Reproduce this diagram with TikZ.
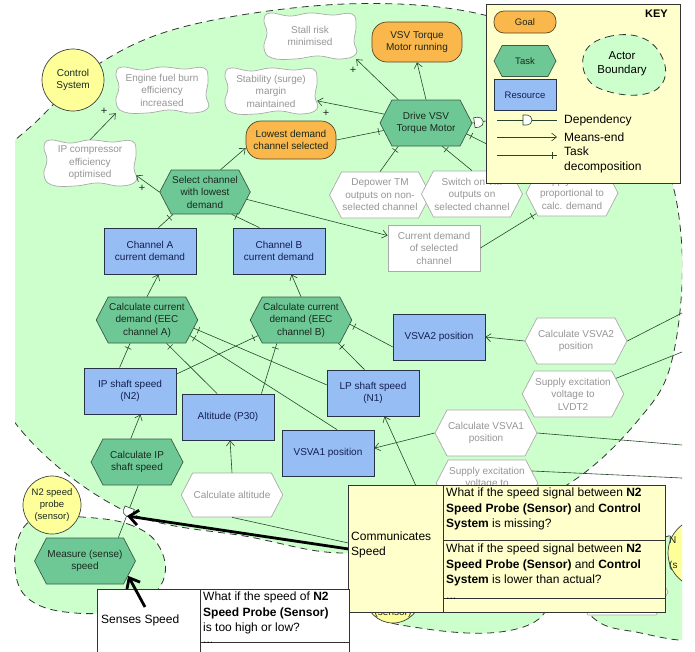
\documentclass[tikz,border=0pt]{standalone}
\usepackage{fontspec}
\setmainfont{Liberation Sans}
\usetikzlibrary{shapes.symbols,shapes.misc,arrows.meta,decorations.markings}
\definecolor{bgreen}{RGB}{204,255,204}
\definecolor{taskfill}{RGB}{110,200,150}
\definecolor{taskdraw}{RGB}{60,90,70}
\definecolor{goalfill}{RGB}{250,183,75}
\definecolor{goaldraw}{RGB}{90,70,40}
\definecolor{resfill}{RGB}{150,190,245}
\definecolor{resdraw}{RGB}{40,50,70}
\definecolor{restext}{RGB}{20,30,80}
\definecolor{actfill}{RGB}{255,255,153}
\definecolor{keyfill}{RGB}{255,255,204}
\definecolor{greytext}{RGB}{150,150,150}
\definecolor{greydraw}{RGB}{170,170,170}
\definecolor{linecol}{RGB}{40,70,45}
\definecolor{darktext}{RGB}{25,40,30}
\tikzset{
  lbl/.style={font=\fontsize{10}{12.5}\selectfont, align=center, inner sep=1pt},
  tsk/.style={lbl, shape=signal, signal to=east and west, signal pointer angle=125, draw=taskdraw, fill=taskfill, text=darktext, minimum width=92pt, minimum height=46pt, line width=0.7pt},
  wtsk/.style={tsk, fill=white, draw=greydraw, text=greytext},
  rsc/.style={lbl, rectangle, draw=resdraw, fill=resfill, text=restext, minimum width=92pt, minimum height=46pt, line width=0.8pt},
  wrsc/.style={rsc, fill=white, draw=greydraw, text=greytext},
  gl/.style={lbl, rectangle, rounded corners=15pt, draw=goaldraw, fill=goalfill, text=darktext, minimum width=90pt, minimum height=40pt, line width=0.7pt},
  sgn/.style={lbl, rectangle, text=greytext, minimum width=92pt, minimum height=46pt},
  sgline/.style={draw=greydraw, fill=white, line width=0.7pt},
  act/.style={lbl, circle, draw=black!75, fill=actfill, text=darktext, line width=0.7pt},
  bnd/.style={draw=black!80, fill=bgreen, line width=0.8pt, dash pattern=on 7pt off 5pt},
  conn/.style={draw=linecol, line width=0.6pt},
  me/.style={conn, -{Straight Barb[length=5pt,width=8pt]}},
  dc/.style={conn, postaction={decorate}, decoration={markings, mark=at position -5pt with {\draw[linecol, line width=0.6pt] (0pt,-3.5pt) -- (0pt,3.5pt);}}},
  dep/.style={conn, postaction={decorate}, decoration={markings, mark=at position #1 with {\draw[linecol, fill=white, line width=0.6pt] (-4pt,-5pt) -- (0pt,-5pt) arc[start angle=-90,end angle=90,radius=5pt] -- (-4pt,5pt) -- cycle;}}},
  dep/.default=0.5,
  plus/.style={font=\fontsize{11}{12}\selectfont, text=darktext, inner sep=0pt},
  thickarrow/.style={draw=black, line width=2.8pt, -{Straight Barb[length=9pt,width=15pt]}},
  tbltext/.style={font=\fontsize{12}{15.5}\selectfont, align=left, inner sep=1pt, text=black},
  keytext/.style={font=\fontsize{12}{15}\selectfont, align=left, inner sep=1pt, text=black},
  tbl/.style={draw=black!80, line width=0.8pt, inner sep=0pt, anchor=north west}
}
\newcommand\sgoal[4]{%
  \draw[sgline, shift={(#2,#3)}] plot[smooth cycle, tension=0.75] coordinates {(-40,-23) (-20,-20) (0,-23) (22,-21) (42,-22) (46,-10) (44,5) (46,18) (30,23) (8,20) (-15,23) (-38,22) (-46,12) (-43,-3) (-46,-16)};
  \node[sgn] (#1) at (#2,#3) {#4};}
\begin{document}
\begin{tikzpicture}[x=1pt,y=-1pt]
\useasboundingbox (0,0) rectangle (695,651);
\fill[white] (0,0) rectangle (695,651);
% big actor boundary
\begin{scope}
\clip (15,0) rectangle (682,651);
\draw[bnd] plot[smooth cycle, tension=0.6] coordinates {(105,60) (195,24) (345,4) (480,14) (590,60) (660,150) (682,250) (672,360) (640,418) (570,483) (460,535) (347,553) (250,537) (123,510) (13,420) (-30,300) (-15,180) (40,118)};
\end{scope}
% small actor boundaries
\draw[bnd] plot[smooth cycle, tension=0.7] coordinates {(70,516) (128,524) (160,548) (161,585) (125,608) (75,613) (30,600) (15,568) (22,530) (45,515)};
\draw[bnd] plot[smooth cycle, tension=0.7] coordinates {(370,570) (450,560) (530,580) (545,612) (500,632) (420,628) (372,612)};
\begin{scope}
\clip (15,0) rectangle (682,651);
\draw[bnd] plot[smooth cycle, tension=0.7] coordinates {(575,580) (640,545) (710,540) (710,632) (630,631) (590,615)};
\draw[act] (703,553) circle[radius=35pt];
\end{scope}
\node[plus, anchor=west, font=\fontsize{10}{12}\selectfont] (n1a) at (669,540) {N};
\node[plus, anchor=west, font=\fontsize{10}{12}\selectfont] (n1b) at (669,566) {(s};
\node[wtsk] (hexr) at (622,592) {};
% actors
\node[act, minimum size=62pt] (ctrl) at (73,80) {Control\\System};
\node[act, minimum size=58pt, font=\fontsize{9.5}{12}\selectfont] (n2p) at (52,505) {N2 speed\\probe\\(sensor)};
\node[act, minimum size=56pt] (sn2) at (393,595) {};
\node[lbl, text=darktext] (sn2t) at (393,613) {(sensor)};
% softgoals
\sgoal{efb}{162}{90}{Engine fuel burn\\efficiency\\increased}
\sgoal{stall}{310}{36}{Stall risk\\minimised}
\sgoal{stab}{271}{91}{Stability (surge)\\margin\\maintained}
\sgoal{ipc}{90}{163}{IP compressor\\efficiency\\optimised}
% goals
\node[gl] (vsvg) at (417,42) {VSV Torque\\Motor running};
\node[gl, minimum height=38pt] (lds) at (291,140) {Lowest demand\\channel selected};
% tasks
\node[tsk] (drv) at (426,123) {Drive VSV\\Torque Motor};
\node[tsk, minimum width=86pt, minimum height=44pt] (sel) at (205,192) {Select channel\\with lowest\\demand};
\node[wtsk] (dpw) at (380,195) {Depower TM\\outputs on non-\\selected channel};
\node[wtsk] (swt) at (472,194) {Switch on TM\\outputs on\\selected channel};
\node[wtsk] (supc) at (572,193) {Supply current\\proportional to\\calc. demand};
\node[wrsc] (cdsel) at (434,248) {Current demand\\of selected\\channel};
\node[rsc] (cha) at (150,251) {Channel A\\current demand};
\node[rsc] (chb) at (279,251) {Channel B\\current demand};
\node[tsk] (cca) at (147,320) {Calculate current\\demand (EEC\\channel A)};
\node[tsk] (ccb) at (301,320) {Calculate current\\demand (EEC\\channel B)};
\node[rsc] (vsva2) at (439,337) {VSVA2 position};
\node[wtsk] (cv2) at (576,341) {Calculate VSVA2\\position};
\node[wtsk] (slv2) at (573,394) {Supply excitation\\voltage to\\LVDT2};
\node[rsc] (ips) at (130,391) {IP shaft speed\\(N2)};
\node[rsc] (alt) at (228,417) {Altitude (P30)};
\node[rsc] (lps) at (373,393) {LP shaft speed\\(N1)};
\node[rsc] (vsva1) at (328,453) {VSVA1 position};
\node[wtsk] (cv1) at (486,433) {Calculate VSVA1\\position};
\node[wtsk] (slv1) at (487,483) {Supply excitation\\voltage to\\\mbox{}};
\node[tsk] (cip) at (137,462) {Calculate IP\\shaft speed};
\node[wtsk, minimum width=90pt, minimum height=44pt] (calt) at (232,495) {Calculate altitude};
\node[tsk] (msr) at (85,561) {Measure (sense)\\speed};
% free ends
\coordinate (kr) at (500,119);
\coordinate (hid) at (421,497);
\coordinate (hid2) at (362,546);
\coordinate (r1) at (682,313);
\coordinate (r2) at (682,352);
\coordinate (r3) at (682,445);
\coordinate (r4) at (682,478);
% links
\draw[me] (ipc.north) -- (efb.south west);
\node[plus] (p1) at (104,111) {+};
\draw[me] (sel.west) -- (ipc.-15);
\node[plus] (p2) at (142,188) {+};
\draw[me] (sel.55) -- (lds.190);
\draw[dc] (lds.east) -- (drv.190);
\draw[me] (drv.168) -- (stab.-12);
\node[plus] (p3) at (326,113) {+};
\draw[me] (drv.140) -- (stall.south east);
\node[plus] (p4) at (353,70) {+};
\draw[me] (drv.north) -- (vsvg.south);
\draw[dc] (dpw.north) -- (drv.-140);
\draw[dc] (swt.north) -- (drv.-55);
\draw[dc] (supc.north west) -- (drv.-15);
\draw[dep=6pt] (drv.east) -- (kr);
\draw[dc] (cha.70) -- (sel.-145);
\draw[dc] (chb.130) -- (sel.-40);
\draw[me] (sel.-10) -- (cdsel.165);
\draw[dc] (cdsel.east) -- (supc.-150);
\draw[me] (cca.north) -- (cha.-70);
\draw[me] (ccb.north) -- (chb.-62);
\draw[dc] (ips.114) -- (cca.-126);
\draw[dc] (ips.20) -- (ccb.-160);
\draw[dc] (alt.115) -- (cca.-50);
\draw[dc] (alt.35) -- (ccb.-136);
\draw[dc] (lps.170) -- (cca.-10);
\draw[dc] (vsva1.69) -- (cca.-20);
\draw[dc] (lps.110) -- (ccb.-32);
\draw[dc] (vsva2.192) -- (ccb.-5);
\draw[me] (cv2.west) -- (vsva2.east);
\draw[me] (cv1.west) -- (vsva1.6);
\draw[me] (hid) -- (lps.-64);
\draw[me] (calt.north) -- (alt.-85);
\draw[me] (cip.105) -- (ips.-66);
\draw[dep] (cip.-87) -- (msr.35);
\draw[conn] (calt.south) -- (hid2);
\draw[conn] (cv2.east) -- (r1);
\draw[conn] (slv2.20) -- (r2);
\draw[conn] (cv1.east) -- (r3);
\draw[conn] (slv1.15) -- (r4);
% KEY
\node[tbl, fill=keyfill, minimum width=194pt, minimum height=179pt] (key) at (486,4) {};
\node[font=\bfseries\fontsize{11}{13}\selectfont, anchor=north east, inner sep=0pt] (keyt) at (668,10) {KEY};
\node[gl, minimum width=62pt, minimum height=22pt, rounded corners=10pt, font=\fontsize{9.5}{11}\selectfont] (kg) at (525,22) {Goal};
\node[tsk, minimum width=62pt, minimum height=31pt, font=\fontsize{9.5}{11}\selectfont] (kt) at (525,61) {Task};
\node[rsc, minimum width=62pt, minimum height=31pt, font=\fontsize{9.5}{11}\selectfont] (kres) at (525,95) {Resource};
\draw[bnd] plot[smooth cycle, tension=0.7] coordinates {(585,52) (607,37) (640,37) (661,55) (664,80) (645,94) (610,92) (587,78)};
\node[lbl, font=\fontsize{11.5}{14}\selectfont, text=black] (kab) at (622,64) {Actor\\Boundary};
\coordinate (kd1) at (497,120); \coordinate (kd2) at (557,120);
\coordinate (km1) at (497,137); \coordinate (km2) at (557,137);
\coordinate (kt1) at (497,155); \coordinate (kt2) at (557,155);
\draw[dep] (kd1) -- (kd2);
\draw[me] (km1) -- (km2);
\draw[dc] (kt1) -- (kt2);
\node[keytext, anchor=west] (kdt) at (563,120) {Dependency};
\node[keytext, anchor=west] (kmt) at (563,137) {Means-end};
\node[keytext, anchor=north west] (ktt) at (563,146) {Task\\decomposition};
% tables
\node[tbl, fill=keyfill, minimum width=317pt, minimum height=127pt] (comm) at (348,485) {};
\draw[draw=black!80, line width=0.8pt] (443,485) -- (443,612);
\draw[draw=black!80, line width=0.8pt] (443,540) -- (665,540);
\draw[draw=black!80, line width=0.8pt] (443,598) -- (665,598);
\node[tbltext, anchor=west] (commt) at (350,545) {Communicates\\Speed};
\node[tbltext, anchor=north west] (q1) at (445,487) {What if the speed signal between \textbf{N2}\\\textbf{Speed Probe (Sensor)} and \textbf{Control}\\\textbf{System} is missing?};
\node[tbltext, anchor=north west] (q2) at (445,543) {What if the speed signal between \textbf{N2}\\\textbf{Speed Probe (Sensor)} and \textbf{Control}\\\textbf{System} is lower than actual?};
\node[tbltext, anchor=north west] (q3) at (445,597) {...};
\node[tbl, fill=white, minimum width=252pt, minimum height=70pt] (sens) at (97,589) {};
\draw[draw=black!80, line width=0.8pt] (200,589) -- (200,660);
\draw[draw=black!80, line width=0.8pt] (200,642) -- (349,642);
\node[tbltext, anchor=west] (senst) at (100,620) {Senses Speed};
\node[tbltext, anchor=north west] (q4) at (202,591) {What if the speed of \textbf{N2}\\\textbf{Speed Probe (Sensor)}\\is too high or low?};
\node[tbltext, anchor=north west] (q5) at (202,641) {...};
% thick arrows
\coordinate (dsym) at (127,516);
\coordinate (sns) at (145,607);
\draw[thickarrow] (comm.west) -- (dsym);
\draw[thickarrow] (sns) -- (msr.-19);
\end{tikzpicture}
\end{document}
